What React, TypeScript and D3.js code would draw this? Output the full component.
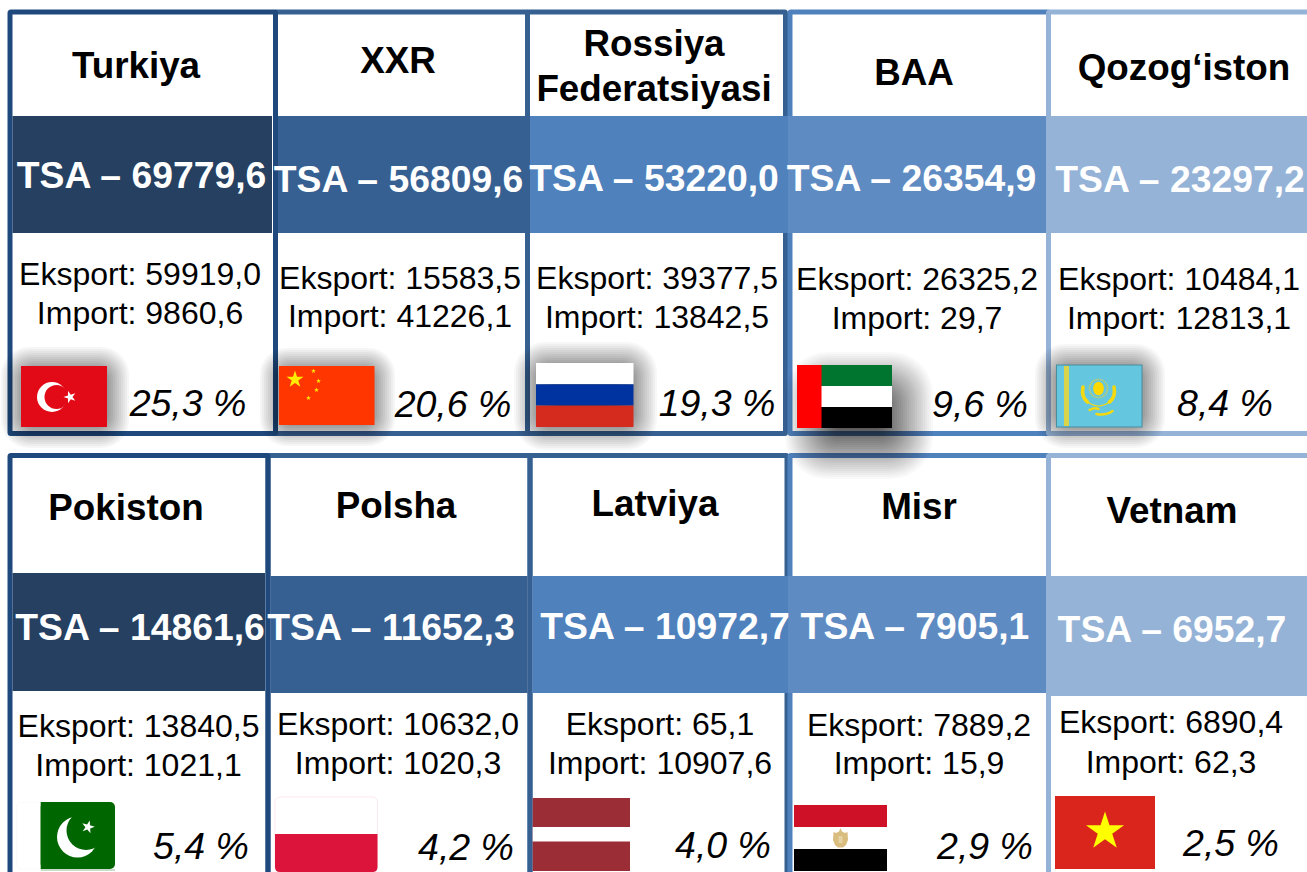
import React, { useEffect, useRef } from 'react';
import * as d3 from 'd3';

// values
const countries = ['Turkiya', 'XXR', 'Rossiya\nFederatsiyasi', 'BAA', 'Qozog‘iston', 'Pokiston', 'Polsha', 'Latviya', 'Misr', 'Vetnam'];
const tsaValues = [69779.6, 56809.6, 53220.0, 26354.9, 23297.2, 14861.6, 11652.3, 10972.7, 7905.1, 6952.7];
const exportValues = [59919.0, 15583.5, 39377.5, 26325.2, 10484.1, 13840.5, 10632.0, 65.1, 7889.2, 6890.4];
const importValues = [9860.6, 41226.1, 13842.5, 29.7, 12813.1, 1021.1, 1020.3, 10907.6, 15.9, 62.3];
const shareValues = [25.3, 20.6, 19.3, 9.6, 8.4, 5.4, 4.2, 4.0, 2.9, 2.5];

// layout of the ten cards, same order as the values
const titleX = [136, 398, 654, 914, 1184, 126, 396, 655, 919, 1172];
const titleY = [78, 73, 56, 85, 80, 520, 518, 516, 519, 523];
const tsaX = [141.5, 398.5, 654, 911.5, 1180, 140, 391, 665, 915, 1172];
const tsaY = [188, 192, 191, 191, 192, 640, 640, 639, 639, 642];
const statX = [140, 400, 657, 917, 1179, 138.5, 398, 660, 919, 1171];
const exportY = [285, 289, 289, 290, 290, 737, 735, 735, 736, 733];
const importY = [324, 327, 328, 329, 329, 776, 774, 774, 774, 773];
const shareX = [188, 453, 717, 980, 1225, 201, 466, 723, 985, 1231];
const shareY = [416, 417, 416, 417, 416, 859, 860, 858, 859, 856];

const frameLeft = [[10, 275.5, 527.5, 790, 1048.5], [10, 268, 530, 790, 1048.5]];
const frameRight = [[275.5, 527.5, 785.5, 1048.5, 1312], [268, 530, 787, 1048.5, 1312]];
const frameTop = [12, 455.5];
const frameBottom = [433.5, 900];
const bandLeft = [[12.5, 278, 530, 788, 1046], [12.5, 270.5, 532.5, 788, 1046]];
const bandRight = [[272, 525, 788, 1046, 1307], [265, 527.5, 788, 1046, 1307]];
const bandTop = [[116, 116, 116, 116, 116], [573, 576, 576, 576, 576]];
const bandBottom = [[233, 233, 233, 233, 233], [691, 693, 693, 693, 696]];

const borderColors = ['#1f497d', '#376092', '#376092', '#4f81bd', '#95b3d7'];
const bandColors = ['#254061', '#376092', '#4f81bd', '#5f8bc3', '#95b3d7'];

const comma = d3.formatLocale({ decimal: ',', thousands: '', grouping: [3], currency: ['', ''] });
const fmt = comma.format('.1f');

const FONT = '"Liberation Sans", Arial, sans-serif';
const SHADOW_STEP = 2;

type G = d3.Selection<SVGGElement, unknown, null, undefined>;

const star = (r: number) => d3.symbol(d3.symbolStar, (r * r) / 0.8908)() as string;

const addRect = (g: G, x: number, y: number, w: number, h: number, fill: string) =>
  g.append('rect').attr('x', x).attr('y', y).attr('width', w).attr('height', h).attr('fill', fill);

const addStar = (g: G, x: number, y: number, r: number, fill: string, rot = 0) =>
  g.append('path').attr('d', star(r)).attr('fill', fill).attr('transform', `translate(${x},${y}) rotate(${rot})`);

const addCircle = (g: G, x: number, y: number, r: number, fill: string) =>
  g.append('circle').attr('cx', x).attr('cy', y).attr('r', r).attr('fill', fill);

const addLine = (g: G, d: string, width: number, color: string) =>
  g.append('path').attr('d', d).attr('fill', 'none').attr('stroke', color).attr('stroke-width', width).attr('stroke-linecap', 'round');

// each flag: origin, size, optional soft shadow [x, y, w, h, opacity, reach], painter
const flags: { x: number; y: number; w: number; h: number; shadow?: number[]; draw: (g: G, w: number, h: number) => void }[] = [
  {
    x: 21, y: 366, w: 86, h: 61, shadow: [21, 367, 88, 61, 0.7, 20],
    draw: (g, w, h) => {
      addRect(g, 0, 0, w, h, '#e30a17');
      addCircle(g, 31, 31, 15, '#fff');
      addCircle(g, 35.5, 31, 12, '#e30a17');
      addStar(g, 49, 31, 6.5, '#fff', -90);
    },
  },
  {
    x: 279, y: 366, w: 95.5, h: 59, shadow: [279, 367, 97, 60, 0.7, 19],
    draw: (g, w, h) => {
      addRect(g, 0, 0, w, h, '#ff3600');
      addStar(g, 16, 13.5, 9, '#ffed00');
      addStar(g, 34.5, 5, 2.6, '#ffed00');
      addStar(g, 39.5, 15, 2.6, '#ffed00');
      addStar(g, 37.5, 24, 2.6, '#ffed00');
      addStar(g, 29.5, 32, 2.6, '#ffed00');
    },
  },
  {
    x: 536, y: 363, w: 97.5, h: 64, shadow: [536, 364, 99, 64, 0.72, 22],
    draw: (g, w) => {
      addRect(g, 0, 0, w, 21.3, '#fff');
      addRect(g, 0, 21.3, w, 21.3, '#0033a0');
      addRect(g, 0, 42.6, w, 21.4, '#d52b1e');
    },
  },
  {
    x: 797, y: 365, w: 95, h: 63, shadow: [815, 382, 88, 67, 0.75, 30],
    draw: (g, w, h) => {
      addRect(g, 0, 0, w, 21, '#00752f');
      addRect(g, 0, 21, w, 21, '#fff');
      addRect(g, 0, 42, w, 21, '#000');
      addRect(g, 0, 0, 24.5, h, '#ff0000');
    },
  },
  {
    x: 1056.5, y: 365, w: 85.5, h: 62, shadow: [1056, 365, 88, 62, 0.72, 21],
    draw: (g, w, h) => {
      const gold = '#f5d90f';
      addRect(g, 0, 0, w, h, '#65c6df').attr('stroke', '#4a8d9e').attr('stroke-width', 1);
      addRect(g, 7.5, 1, 5, h - 2, '#d9d44a');
      g.append('ellipse').attr('cx', 42).attr('cy', 23.5).attr('rx', 5.4).attr('ry', 6.8).attr('fill', '#ffd800');
      g.append('circle').attr('cx', 42).attr('cy', 23.5).attr('r', 9).attr('fill', 'none')
        .attr('stroke', '#d9cf4f').attr('stroke-width', 1.8).attr('stroke-dasharray', '1 1');
      addLine(g, 'M26.5,22Q24.5,32 31,37', 3.6, gold);
      addLine(g, 'M57.5,22Q59.5,32 53,37', 3.6, gold);
      addLine(g, 'M30,36Q42,46 54,36', 1.1, gold);
      addLine(g, 'M33,45Q38,42 42,44', 2.4, gold);
      addLine(g, 'M40,49Q49,51 56,46', 2.6, gold);
    },
  },
  {
    x: 16.5, y: 802, w: 98.5, h: 67,
    draw: (g, w, h) => {
      g.append('rect').attr('x', 0).attr('y', 0).attr('width', w).attr('height', h).attr('rx', 5)
        .attr('fill', '#fff').attr('stroke', '#f8faf8').attr('stroke-width', 1);
      g.append('rect').attr('x', 24.2).attr('y', 0).attr('width', w - 24.2).attr('height', h).attr('rx', 5).attr('fill', '#006600');
      addRect(g, 24.2, 0, 8, h, '#006600');
      addRect(g, 24.2, h, w - 24.2, 2, '#c9dcc9');
      addCircle(g, 61, 35, 20.5, '#fff');
      addCircle(g, 69.5, 28.5, 19.5, '#006600');
      addStar(g, 71.5, 25, 6.8, '#fff', 15);
    },
  },
  {
    x: 275, y: 797, w: 102.5, h: 75,
    draw: (g, w, h) => {
      g.append('rect').attr('x', 0).attr('y', 0).attr('width', w).attr('height', h).attr('rx', 5)
        .attr('fill', '#fff').attr('stroke', '#fde8eb').attr('stroke-width', 1);
      g.append('path').attr('fill', '#dc143c')
        .attr('d', `M0,37H${w}V${h - 5}Q${w},${h} ${w - 5},${h}H5Q0,${h} 0,${h - 5}Z`);
    },
  },
  {
    x: 532.7, y: 798, w: 97.3, h: 73,
    draw: (g, w, h) => {
      addRect(g, 0, 0, w, h, '#9b2d37');
      addRect(g, 0, 29, w, 14.5, '#fff');
    },
  },
  {
    x: 794, y: 805, w: 93, h: 66,
    draw: (g, w) => {
      addRect(g, 0, 0, w, 22, '#ce1126');
      addRect(g, 0, 22, w, 22, '#fff');
      addRect(g, 0, 44, w, 22, '#000');
      g.append('path').attr('fill', '#d9bd7e')
        .attr('d', 'M46.5,23L48,26.5L51,28L53.5,27L54,35L52,40L49,42.5H44L41,40L39,35L39.5,27L42,28L45,26.5Z');
      addRect(g, 44.5, 31, 4, 7, '#e6d2a2');
    },
  },
  {
    x: 1055, y: 796, w: 100, h: 73,
    draw: (g, w, h) => {
      addRect(g, 0, 0, w, h, '#da251d');
      addStar(g, 50, 35.5, 20, '#ffff00');
    },
  },
];

const App = () => {
  const svgRef = useRef<SVGSVGElement | null>(null);

  useEffect(() => {
    const svg = d3.select(svgRef.current as SVGSVGElement);
    svg.selectAll('*').remove();

    const columns = [0, 1, 2, 3, 4];
    const borderScale = d3.scaleOrdinal<number, string>().domain(columns).range(borderColors);
    const bandScale = d3.scaleOrdinal<number, string>().domain(columns).range(bandColors);

    // frames, in this order so the neighbours overlap as in the slide
    [0, 1].forEach(row => {
      [2, 3, 4, 1, 0].forEach(col => {
        svg.append('rect')
          .attr('x', frameLeft[row][col])
          .attr('y', frameTop[row])
          .attr('width', frameRight[row][col] - frameLeft[row][col])
          .attr('height', frameBottom[row] - frameTop[row])
          .attr('rx', 1)
          .attr('fill', 'none')
          .attr('stroke', borderScale(col))
          .attr('stroke-width', 5);
      });
      columns.forEach(col => {
        svg.append('rect')
          .attr('x', bandLeft[row][col])
          .attr('y', bandTop[row][col])
          .attr('width', bandRight[row][col] - bandLeft[row][col])
          .attr('height', bandBottom[row][col] - bandTop[row][col])
          .attr('fill', bandScale(col));
      });
    });

    // shadows go over the frames: stacked boxes that add up to a linear falloff
    flags.filter(f => f.shadow).forEach(f => {
      const [x, y, w, h, o, reach] = f.shadow as number[];
      let prev = 0;
      d3.range(reach, -reach - 1, -SHADOW_STEP).forEach(e => {
        const target = (o * (reach - e + SHADOW_STEP)) / (2 * reach + SHADOW_STEP);
        const a = 1 - (1 - target) / (1 - prev);
        prev = target;
        svg.append('rect')
          .attr('x', x - e)
          .attr('y', y - e)
          .attr('width', w + 2 * e)
          .attr('height', h + 2 * e)
          .attr('rx', Math.max(e + reach, 0) * 0.7)
          .attr('fill', '#000')
          .attr('fill-opacity', a);
      });
    });

    flags.forEach(f => {
      const g = svg.append('g').attr('transform', `translate(${f.x},${f.y})`) as unknown as G;
      f.draw(g, f.w, f.h);
    });

    const text = svg.append('g')
      .attr('font-family', FONT)
      .attr('text-anchor', 'middle')
      .style('white-space', 'pre');

    countries.forEach((name, i) => {
      name.split('\n').forEach((line, k) => {
        text.append('text')
          .attr('x', titleX[i])
          .attr('y', titleY[i] + k * 45)
          .attr('font-size', 36.8)
          .attr('font-weight', 700)
          .attr('fill', '#000')
          .text(line);
      });
      text.append('text')
        .attr('x', tsaX[i]).attr('y', tsaY[i])
        .attr('font-size', 37.3).attr('font-weight', 700).attr('fill', '#fff')
        .text(`TSA – ${fmt(tsaValues[i])}`);
      text.append('text')
        .attr('x', statX[i]).attr('y', exportY[i])
        .attr('font-size', 32).attr('fill', '#000')
        .text(`Eksport: ${fmt(exportValues[i])}`);
      text.append('text')
        .attr('x', statX[i]).attr('y', importY[i])
        .attr('font-size', 32).attr('fill', '#000')
        .text(`Import: ${name === 'BAA' ? ' ' : ''}${fmt(importValues[i])}`);
      text.append('text')
        .attr('x', shareX[i]).attr('y', shareY[i])
        .attr('font-size', 37.5).attr('font-style', 'italic').attr('fill', '#000')
        .text(`${fmt(shareValues[i])} %`);
    });
  }, []);

  return (
    <svg
      ref={svgRef}
      width={1307}
      height={872}
      style={{ position: 'absolute', left: 0, top: 0, display: 'block', background: '#fff' }}
    />
  );
};

export default App;
